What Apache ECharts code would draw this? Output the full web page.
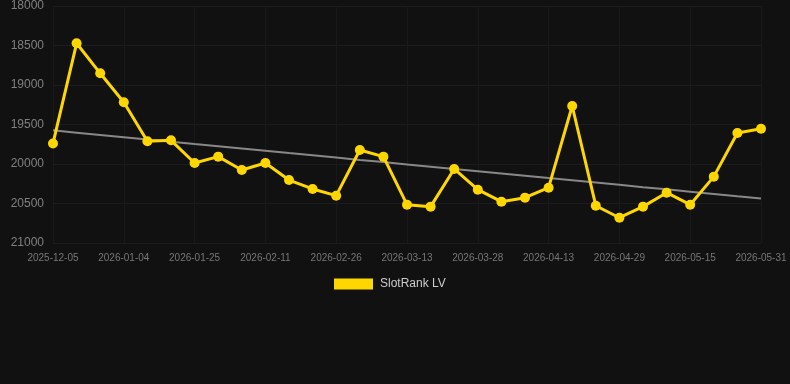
<!DOCTYPE html>
<html>
<head>
<meta charset="utf-8">
<script src="https://cdn.jsdelivr.net/npm/echarts@6/dist/echarts.min.js"></script>
<style>
  html, body { margin: 0; padding: 0; background: #111111; }
  #main { width: 790px; height: 384px; }
</style>
</head>
<body>
<div id="main"></div>
<script>
// 日期（类目轴）
var dates = [
  '2025-12-05', '2025-12-15', '2025-12-25', '2026-01-04', '2026-01-11', '2026-01-18',
  '2026-01-25', '2026-01-31', '2026-02-06', '2026-02-11', '2026-02-16', '2026-02-21',
  '2026-02-26', '2026-03-03', '2026-03-08', '2026-03-13', '2026-03-18', '2026-03-23',
  '2026-03-28', '2026-04-02', '2026-04-08', '2026-04-13', '2026-04-18', '2026-04-24',
  '2026-04-29', '2026-05-04', '2026-05-10', '2026-05-15', '2026-05-20', '2026-05-26',
  '2026-05-31'
];
// 排名值
var rankLV = [
  19740, 18472, 18852, 19219, 19713, 19700, 19987, 19907, 20076, 19987, 20203, 20316,
  20401, 19823, 19907, 20515, 20540, 20063, 20325, 20477, 20426, 20300, 19266, 20528,
  20680, 20540, 20363, 20515, 20160, 19608, 19553
];
var yTicks = [18000, 18500, 19000, 19500, 20000, 20500, 21000];

// 线性回归趋势线
function trend(values) {
  var n = values.length, sx = 0, sy = 0, sxy = 0, sxx = 0;
  for (var i = 0; i < n; i++) {
    sx += i; sy += values[i]; sxy += i * values[i]; sxx += i * i;
  }
  var b = (n * sxy - sx * sy) / (n * sxx - sx * sx);
  var a = (sy - b * sx) / n;
  var out = [];
  for (var j = 0; j < n; j++) out.push(Math.round(a + b * j));
  return out;
}

var myChart = echarts.init(document.getElementById('main'));
myChart.setOption({
  backgroundColor: '#111111',
  animation: false,
  grid: { left: 53, right: 29, top: 6, bottom: 141 },
  legend: {
    data: [{ name: 'SlotRank LV', icon: 'rect' }],
    top: 278,
    left: 334,
    padding: 0,
    itemWidth: 39,
    itemHeight: 11,
    itemGap: 7,
    textStyle: { color: '#cccccc', fontSize: 12, padding: [0, 0, 0, 2] }
  },
  xAxis: {
    type: 'category',
    data: dates,
    boundaryGap: false,
    axisLine: { show: false },
    axisTick: { show: false },
    axisLabel: { interval: 2, color: '#777777', fontSize: 10, margin: 10 },
    splitLine: { show: true, interval: 2, lineStyle: { color: '#191919' } }
  },
  yAxis: {
    type: 'value',
    inverse: true,
    min: yTicks[0],
    max: yTicks[yTicks.length - 1],
    interval: 500,
    axisLine: { show: false },
    axisTick: { show: false },
    axisLabel: {
      color: '#808080', fontSize: 12, margin: 9,
      formatter: function (v) { return String(v); }
    },
    splitLine: { lineStyle: { color: '#1c1c1c' } }
  },
  series: [
    {
      name: 'SlotRank LV',
      type: 'line',
      data: rankLV,
      color: '#FFD700',
      lineStyle: { width: 3 },
      symbol: 'circle',
      symbolSize: 10,
      z: 3
    },
    {
      name: 'trend',
      type: 'line',
      data: trend(rankLV),
      symbol: 'none',
      lineStyle: { color: '#888888', width: 2 },
      z: 2
    }
  ]
});
</script>
</body>
</html>
